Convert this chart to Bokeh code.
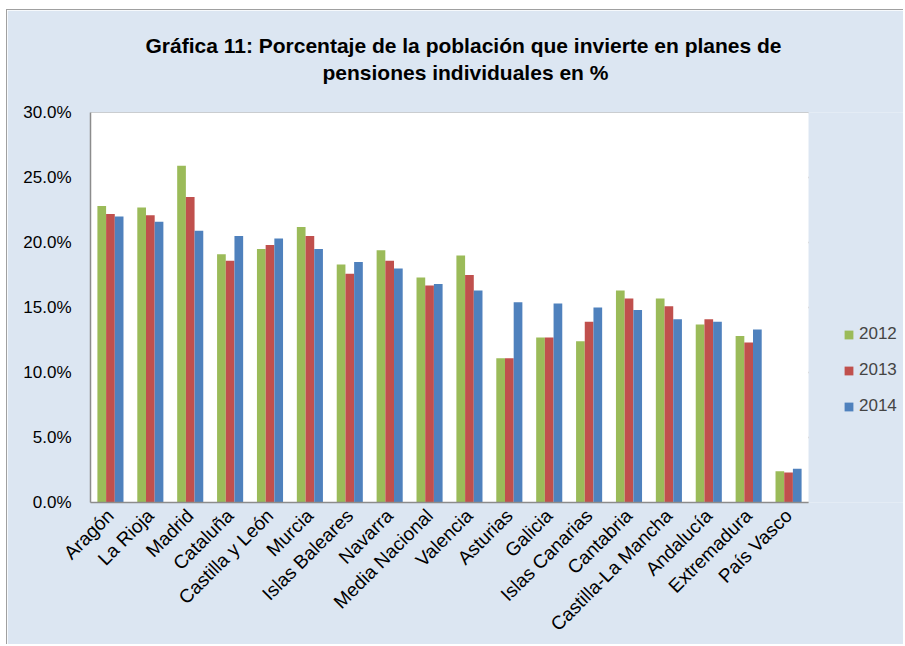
from bokeh.plotting import figure
from bokeh.models import (Range1d, PrintfTickFormatter, Legend, LegendItem, FixedTicker,
                          ColumnDataSource, Title, BoxAnnotation)
from bokeh.embed import file_html
from bokeh.resources import INLINE
import math

regions = ["Aragón", "La Rioja", "Madrid", "Cataluña", "Castilla y León", "Murcia",
           "Islas Baleares", "Navarra", "Media Nacional", "Valencia", "Asturias",
           "Galicia", "Islas Canarias", "Cantabria", "Castilla-La Mancha", "Andalucía",
           "Extremadura", "País Vasco"]
y2012 = [22.8, 22.7, 25.9, 19.1, 19.5, 21.2, 18.3, 19.4, 17.3, 19.0, 11.1, 12.7, 12.4, 16.3, 15.7, 13.7, 12.8, 2.4]
y2013 = [22.2, 22.1, 23.5, 18.6, 19.8, 20.5, 17.6, 18.6, 16.7, 17.5, 11.1, 12.7, 13.9, 15.7, 15.1, 14.1, 12.3, 2.3]
y2014 = [22.0, 21.6, 20.9, 20.5, 20.3, 19.5, 18.5, 18.0, 16.8, 16.3, 15.4, 15.3, 15.0, 14.8, 14.1, 13.9, 13.3, 2.6]
years = ["2012", "2013", "2014"]
colors = ["#9BBB59", "#C0504D", "#4F81BD"]
y_ticks = [0, 5, 10, 15, 20, 25, 30]
title_lines = ["Gráfica 11: Porcentaje de la población que invierte en planes de",
               "pensiones individuales en %"]

FONT = "Liberation Sans"
BG = "#DCE6F2"
GRID = "#8C8C8C"

n = len(regions)
y_max = y_ticks[-1]
# the plotting frame runs to the right edge so the legend can sit beside the bars;
# the white plot area covers only the categories (718 px of the 814 px frame)
x_end = n * 814 / 718

p = figure(width=897, height=635, output_backend="svg",
           toolbar_location=None, tools="",
           x_range=Range1d(0, x_end), y_range=Range1d(0, y_max),
           min_border_left=83, min_border_right=0, min_border_top=102, min_border_bottom=143,
           background_fill_color=BG, border_fill_color=BG)
p.styles = {"margin-left": "6px", "margin-top": "9px",
            "border-left": "1px solid #A0A0A0", "border-top": "1px solid #A0A0A0"}

# title: two centred lines, plus a spacer line between them and the plot
p.title.text = ""
p.add_layout(Title(text=" ", text_font=FONT, text_font_size="21px", standoff=2), "above")
p.add_layout(Title(text=title_lines[1], align="left", text_font=FONT, text_font_size="21px",
                   text_font_style="bold", text_color="#000000", offset=232, standoff=4), "above")
p.add_layout(Title(text=title_lines[0], align="left", text_font=FONT, text_font_size="21px",
                   text_font_style="bold", text_color="#000000", offset=55, standoff=0), "above")

# white plot area
p.add_layout(BoxAnnotation(left=0, right=n, bottom=0, top=y_max, fill_color="white",
                           fill_alpha=1, line_color=None, level="underlay"))
# horizontal gridlines limited to the plot area
p.segment(x0=[0] * len(y_ticks), x1=[n] * len(y_ticks), y0=y_ticks, y1=y_ticks,
          line_color=GRID, line_width=1.5, level="underlay")

w = 0.218
centers = [k + 0.5 for k in range(n)]
series = [y2012, y2013, y2014]
renderers = []
for i, (yr, col, vals) in enumerate(zip(years, colors, series)):
    src = ColumnDataSource(dict(x=[c + (i - 1) * w for c in centers], top=vals))
    r = p.vbar(x="x", top="top", width=w, source=src, fill_color=col, line_color=None)
    renderers.append(r)

p.grid.grid_line_color = None
p.outline_line_color = None

p.yaxis.ticker = FixedTicker(ticks=y_ticks)
p.yaxis.formatter = PrintfTickFormatter(format="%.1f%%")
p.yaxis.bounds = (0, y_max)
p.xaxis.ticker = FixedTicker(ticks=centers)
p.xaxis.major_label_overrides = {c: name for c, name in zip(centers, regions)}
p.xaxis.bounds = (0, n)

for ax in (p.xaxis, p.yaxis):
    ax.axis_line_color = GRID
    ax.axis_line_width = 1.5
    ax.major_tick_line_color = None
    ax.minor_tick_line_color = None
    ax.major_tick_out = 0
    ax.major_tick_in = 0
    ax.minor_tick_out = 0
    ax.minor_tick_in = 0
    ax.major_label_text_font = FONT
    ax.major_label_text_color = "#000000"

p.yaxis.major_label_text_font_size = "17px"
p.xaxis.major_label_text_font_size = "19px"
p.yaxis.major_label_standoff = 19
p.xaxis.major_label_orientation = math.pi / 4
p.xaxis.major_label_standoff = 10

legend = Legend(items=[LegendItem(label=yr, renderers=[r]) for yr, r in zip(years, renderers)],
                location=(753, 86), orientation="vertical",
                background_fill_alpha=0, border_line_color=None,
                label_text_font=FONT, label_text_font_size="17px",
                glyph_width=11, glyph_height=11, label_height=20, spacing=16,
                padding=0, margin=0, label_standoff=5)
p.add_layout(legend)

open("out.html", "w").write(file_html(p, INLINE))
